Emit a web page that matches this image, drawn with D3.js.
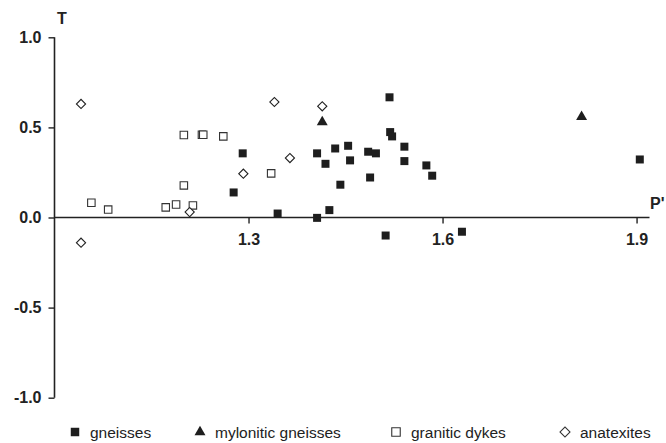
<!DOCTYPE html>
<html>
<head>
<meta charset="utf-8">
<script src="https://cdn.jsdelivr.net/npm/d3@7"></script>
<style>
  body { margin: 0; background: #fff; }
  text { font-family: "Liberation Sans", Arial, sans-serif; }
</style>
</head>
<body>
<script>
// P' (x) and T (y)
let gneisses = [
  [1.291,0.356],[1.277,0.139],[1.345,0.022],[1.406,-0.002],[1.406,0.356],[1.419,0.298],
  [1.434,0.383],[1.454,0.398],[1.457,0.317],[1.425,0.041],[1.442,0.182],[1.485,0.365],
  [1.497,0.356],[1.488,0.222],[1.518,0.667],[1.519,0.474],[1.522,0.450],[1.541,0.393],
  [1.541,0.313],[1.512,-0.100],[1.575,0.289],[1.584,0.232],[1.630,-0.079],[1.905,0.322]
];
let mylonitic = [[1.414,0.530],[1.815,0.558]];
let granitic = [
  [1.057,0.082],[1.083,0.044],[1.172,0.056],[1.188,0.072],[1.214,0.067],[1.200,0.178],
  [1.200,0.458],[1.228,0.459],[1.230,0.459],[1.261,0.450],[1.335,0.245]
];
let anatexites = [
  [1.041,0.630],[1.041,-0.140],[1.340,0.641],[1.414,0.617],[1.364,0.330],[1.292,0.243],[1.209,0.030]
];
let xTicks = [1.3,1.6,1.9];
let yTicks = [1.0,0.5,0.0,-0.5,-1.0];
let legendNames = ["gneisses","mylonitic gneisses","granitic dykes","anatexites"];

let width = 666, height = 443;
let svg = d3.select("body").append("svg").attr("width", width).attr("height", height);

let x = d3.scaleLinear().domain([1.0, 1.92]).range([54.5, 649.5]);
let y = d3.scaleLinear().domain([-1.0, 1.0]).range([397.7, 37.3]);
let fmt = d => d.toFixed(1);

// y axis
let yAxis = svg.append("g").attr("transform", "translate(" + x(1.0) + ",0)")
  .call(d3.axisLeft(y).tickValues(yTicks).tickSize(6).tickFormat(fmt));
yAxis.select(".domain").attr("d", "M0," + y(1.0) + "V" + y(-1.0)).attr("stroke", "#222").attr("stroke-width", 1.6);
yAxis.selectAll(".tick line").attr("stroke", "#222").attr("stroke-width", 1.4);
yAxis.selectAll(".tick text").attr("x", -13).attr("font-size", 16).attr("font-weight", "bold")
  .attr("fill", "#222").attr("font-family", "Liberation Sans, Arial, sans-serif");

// x axis crossing at T = 0
let xAxis = svg.append("g").attr("transform", "translate(0," + y(0) + ")")
  .call(d3.axisBottom(x).tickValues(xTicks).tickSize(6).tickFormat(fmt));
xAxis.select(".domain").attr("d", "M" + x(1.0) + ",0H" + x(1.92)).attr("stroke", "#222").attr("stroke-width", 1.6);
xAxis.selectAll(".tick line").attr("stroke", "#222").attr("stroke-width", 1.4);
xAxis.selectAll(".tick text").attr("y", 16).attr("font-size", 16).attr("font-weight", "bold")
  .attr("fill", "#222").attr("font-family", "Liberation Sans, Arial, sans-serif");

svg.append("text").attr("x", 62).attr("y", 24).attr("text-anchor", "middle")
  .attr("font-size", 16).attr("font-weight", "bold").attr("fill", "#222").text("T");
svg.append("text").attr("x", 650).attr("y", 209)
  .attr("font-size", 16).attr("font-weight", "bold").attr("fill", "#222").text("P'");

let sq = d3.symbol().type(d3.symbolSquare).size(64);
let tri = d3.symbol().type(d3.symbolTriangle).size(52);

svg.selectAll("path.dyke").data(granitic).enter().append("path")
  .attr("class", "dyke")
  .attr("d", d3.symbol().type(d3.symbolSquare).size(56))
  .attr("transform", d => "translate(" + x(d[0]) + "," + y(d[1]) + ")")
  .attr("fill", "#fff").attr("stroke", "#333").attr("stroke-width", 1.1);

svg.selectAll("path.anat").data(anatexites).enter().append("path")
  .attr("class", "anat")
  .attr("d", d3.symbol().type(d3.symbolSquare).size(42))
  .attr("transform", d => "translate(" + x(d[0]) + "," + y(d[1]) + ") rotate(45)")
  .attr("fill", "#fff").attr("stroke", "#222").attr("stroke-width", 1.1);

svg.selectAll("path.gn").data(gneisses).enter().append("path")
  .attr("class", "gn")
  .attr("d", sq)
  .attr("transform", d => "translate(" + x(d[0]) + "," + y(d[1]) + ")")
  .attr("fill", "#1e1e1e");

svg.selectAll("path.myl").data(mylonitic).enter().append("path")
  .attr("class", "myl")
  .attr("d", tri)
  .attr("transform", d => "translate(" + x(d[0]) + "," + y(d[1]) + ")")
  .attr("fill", "#1e1e1e");

// legend
let legX = [75, 200, 396, 565];
let leg = svg.selectAll("g.leg").data(legendNames).enter().append("g")
  .attr("class", "leg")
  .attr("transform", (d,i) => "translate(" + legX[i] + ",432)");
leg.append("path")
  .attr("d", (d,i) => i == 1 ? tri() : d3.symbol().type(d3.symbolSquare).size(i == 3 ? 50 : 72)())
  .attr("transform", (d,i) => i == 3 ? "rotate(45)" : null)
  .attr("fill", (d,i) => i < 2 ? "#1e1e1e" : "#fff")
  .attr("stroke", (d,i) => i < 2 ? "none" : "#333")
  .attr("stroke-width", 1.1);
leg.append("text").attr("x", 15).attr("y", 5.5).attr("font-size", 15.5).attr("fill", "#222").text(d => d);
</script>
</body>
</html>
